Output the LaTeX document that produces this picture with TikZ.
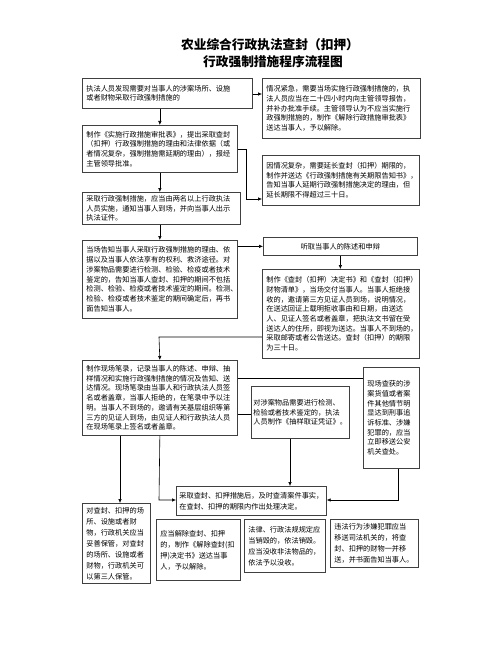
\documentclass[tikz,border=0pt]{standalone}
\usepackage{fontspec}
\setmainfont{Noto Sans CJK SC}
\usetikzlibrary{arrows.meta, positioning}

\begin{document}
\begin{tikzpicture}[
  x=1pt, y=-1pt,
  box/.style={draw=black!75, line width=0.7pt, anchor=north west, align=left,
    font=\fontsize{7.2}{9.7}\selectfont, inner xsep=4pt, inner ysep=3pt},
  lowbox/.style={box, font=\fontsize{7.2}{11}\selectfont},
  ttl/.style={font=\fontsize{12.7}{17}\selectfont\bfseries},
  >={Latex[length=4pt, width=3.5pt]}, line width=0.6pt
]
\useasboundingbox (0,0) rectangle (503,647);

\node[ttl] (title1) at (270,45) {农业综合行政执法查封（扣押）};
\node[ttl] (title2) at (273,62) {行政强制措施程序流程图};

\node[box, text width=162pt, minimum height=30pt] (find) at (82,78)
  {执法人员发现需要对当事人的涉案场所、设施\\或者财物采取行政强制措施的};
\node[box, text width=150pt, minimum height=60pt] (urgent) at (262,78)
  {情况紧急，需要当场实施行政强制措施的，执\\法人员应当在二十四小时内向主管领导报告，\\并补办批准手续。主管领导认为不应当实施行\\政强制措施的，制作《解除行政措施审批表》\\送达当事人，予以解除。};
\node[box, text width=147pt, minimum height=47pt] (approve) at (82,125)
  {制作《实施行政措施审批表》，提出采取查封\\（扣押）行政强制措施的理由和法律依据（或\\者情况复杂，强制措施需延期的理由），报经\\主管领导批准。};
\node[box, text width=149pt, minimum height=50pt] (extend) at (262,155)
  {因情况复杂，需要延长查封（扣押）期限的，\\制作并送达《行政强制措施有关期限告知书》，\\告知当事人延期行政强制措施决定的理由，但\\延长期限不得超过三十日。};
\node[box, text width=150pt, minimum height=31pt] (carry) at (82,192)
  {采取行政强制措施，应当由两名以上行政执法\\人员实施，通知当事人到场，并向当事人出示\\执法证件。};
\node[box, text width=147pt, minimum height=78pt] (inform) at (82,240)
  {当场告知当事人采取行政强制措施的理由、依\\据以及当事人依法享有的权利、救济途径。对\\涉案物品需要进行检测、检验、检疫或者技术\\鉴定的，告知当事人查封、扣押的期间不包括\\检测、检验、检疫或者技术鉴定的期间。检测、\\检验、检疫或者技术鉴定的期间确定后，再书\\面告知当事人。};
\node[box, text width=146pt, minimum height=18pt, align=center] (hear) at (263,237)
  {听取当事人的陈述和申辩};
\node[box, text width=149pt, minimum height=89pt] (decide) at (262,269)
  {制作《查封（扣押）决定书》和《查封（扣押）\\财物清单》，当场交付当事人。当事人拒绝接\\收的，邀请第三方见证人员到场，说明情况，\\在送达回证上载明拒收事由和日期，由送达\\人、见证人签名或者盖章，把执法文书留在受\\送达人的住所，即视为送达。当事人不到场的，\\采取邮寄或者公告送达。查封（扣押）的期限\\为三十日。};
\node[box, text width=147pt, minimum height=75pt] (record) at (82,360)
  {制作现场笔录，记录当事人的陈述、申辩、抽\\样情况和实施行政强制措施的情况及告知、送\\达情况。现场笔录由当事人和行政执法人员签\\名或者盖章，当事人拒绝的，在笔录中予以注\\明。当事人不到场的，邀请有关基层组织等第\\三方的见证人到场，由见证人和行政执法人员\\在现场笔录上签名或者盖章。};
\node[box, text width=48pt, minimum height=101pt] (crime) at (363,367)
  {现场查获的涉\\案货值或者案\\件其他情节明\\显达到刑事追\\诉标准、涉嫌\\犯罪的，应当\\立即移送公安\\机关查处。};
\node[box, text width=94pt, inner xsep=2pt, minimum height=52pt] (sample) at (251,386)
  {对涉案物品需要进行检测、\\检验或者技术鉴定的，执法\\人员制作《抽样取证凭证》。};
\node[lowbox, text width=144pt, inner xsep=3pt, minimum height=29pt] (handle) at (176,486)
  {采取查封、扣押措施后，及时查清案件事实，\\在查封、扣押的期限内作出处理决定。};
\node[lowbox, text width=60pt, minimum height=80pt] (keep) at (82,503)
  {对查封、扣押的场\\所、设施或者财\\物，行政机关应当\\妥善保管，对查封\\的场所、设施或者\\财物，行政机关可\\以第三人保管。};
\node[lowbox, text width=76pt, minimum height=61pt] (release) at (156,519)
  {应当解除查封、扣押\\的，制作《解除查封(扣\\押)决定书》送达当事\\人，予以解除。};
\node[lowbox, text width=73pt, minimum height=53pt] (destroy) at (244,519)
  {法律、行政法规规定应\\当销毁的，依法销毁。\\应当没收非法物品的，\\依法予以没收。};
\node[lowbox, text width=80pt, minimum height=48pt] (transfer) at (330,519)
  {违法行为涉嫌犯罪应当\\移送司法机关的，将查\\封、扣押的财物一并移\\送，并书面告知当事人。};

% turning points
\coordinate (cdTurn) at (246,199);
\coordinate (hiTurn) at (159,337);
\coordinate (ilTurn) at (159,500);
\coordinate (jlTurn) at (398,500);

\draw[->] (find.east |- 0,94) -- (urgent.west |- 0,94);
\draw[->] (approve.north |- find.south) -- (approve.north);
\draw[->] (approve.east) -| (cdTurn) -- (cdTurn -| extend.west);
\draw[->] (approve.south) -- (approve.south |- carry.north);
\draw[->] (carry.south -| approve.south) -- (inform.north);
\draw[->] (hear.west -| inform.east) -- (hear.west);
\draw[->] (hear.south) -- (hear.south |- decide.north);
\draw[->] (hiTurn -| decide.west) -- (hiTurn) -- (record.north);
\draw (record.east |- 0,378) -- (crime.west |- 0,378);
\draw (record.east |- 0,414) -- (sample.west |- 0,414);
\draw[->] (record.south -| 120,0) -- (keep.north -| 120,0);
\draw[->] (record.south) -- (ilTurn) -- (ilTurn -| handle.west);
\draw[->] (sample.south -| 290,0) -- (handle.north -| 290,0);
\draw[->] (crime.south -| jlTurn) -- (jlTurn) -- (jlTurn -| handle.east);
\end{tikzpicture}
\end{document}
